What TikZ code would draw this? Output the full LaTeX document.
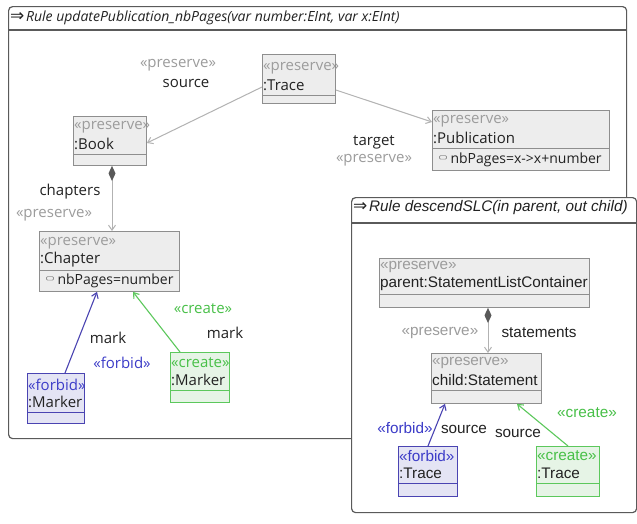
\documentclass[tikz,border=0pt]{standalone}
\usepackage{fontspec}
\setmainfont{Open Sans}
\newfontfamily\arialfont{Liberation Sans}
\newfontfamily\symfont{DejaVu Sans}
\usetikzlibrary{calc,arrows.meta}

\definecolor{frameline}{HTML}{5A5A5A}
\definecolor{boxfill}{HTML}{EDEDED}
\definecolor{boxline}{HTML}{8E8E8E}
\definecolor{presgray}{HTML}{9C9C9C}
\definecolor{forbline}{HTML}{4A44B2}
\definecolor{forbfill}{HTML}{E4E4F4}
\definecolor{forbtext}{HTML}{3C3CC8}
\definecolor{crline}{HTML}{5CC85C}
\definecolor{crfill}{HTML}{E6F4E6}
\definecolor{crtext}{HTML}{48C048}
\definecolor{edgegray}{HTML}{B2B2B2}
\definecolor{txt}{HTML}{222222}

\newcommand\fA{\fontsize{15}{17}\selectfont}
\newcommand\fAttr{\fontsize{14}{16}\selectfont}
\newcommand\fB{\arialfont\fontsize{15.3}{17}\selectfont}
\newcommand\ruleArrow{{\symfont\fontsize{17}{17}\selectfont ⇒}}
\newcommand\attrIcon{\tikz[baseline=-0.6ex]\draw[boxline,line width=0.7pt,rounded corners=1pt] (0,0) rectangle (7,-3.5);}

\tikzset{
  rulebox/.style={draw=frameline, line width=1.2pt, fill=white, rounded corners=4pt, inner sep=0pt, anchor=north west},
  objbox/.style={draw, line width=0.9pt, inner sep=0pt, anchor=north west},
  presbox/.style={draw=boxline, fill=boxfill},
  forbbox/.style={draw=forbline, fill=forbfill},
  crbox/.style={draw=crline, fill=crfill},
  presline/.style={draw=boxline, line width=0.9pt},
  forbline/.style={draw=forbline, line width=0.9pt},
  crline/.style={draw=crline, line width=0.9pt},
  objtext/.style={anchor=west, inner sep=0pt, text=txt},
  presstereo/.style={text=presgray},
  forbstereo/.style={text=forbtext},
  crstereo/.style={text=crtext},
  lbl/.style={inner sep=0pt, text=txt},
  preslbl/.style={inner sep=0pt, text=presgray},
  forblbl/.style={inner sep=0pt, text=forbtext},
  crlbl/.style={inner sep=0pt, text=crtext},
  tip/.style={-{Straight Barb[length=5pt,width=7pt]}},
  presedge/.style={draw=edgegray, line width=1pt, tip},
  forbedge/.style={draw=forbline, line width=1.1pt, tip},
  credge/.style={draw=crline, line width=1.1pt, tip},
  compedge/.style={draw=edgegray, line width=1pt,
    {Diamond[length=15pt,width=7pt,fill=gray!70!black,color=gray!70!black]}-{Straight Barb[length=5pt,width=7pt]}},
}

% object box: name, kind, x, top, width, bottom, separator, stereotype, label
\newcommand\umlobj[9]{%
  \node[objbox, #2box, minimum width=#5, minimum height={#6-#4}] (#1) at (#3,#4) {};
  \draw[#2line] (#3,#7) -- ({#3+#5},#7);
  \node[objtext, #2stereo] (#1-st) at ({#3+1},{#7-27}) {#8};
  \node[objtext] (#1-nm) at ({#3+1},{#7-10}) {#9};
}

\begin{document}
\begin{tikzpicture}[x=1pt,y=-1pt]
\useasboundingbox (0,0) rectangle (637,523);

% ---- rule updatePublication_nbPages ----
\node[rulebox, minimum width=618, minimum height=432] (rule1) at (8,6) {};
\draw[frameline, line width=1.2pt] ($(rule1.north west)+(0,24)$) -- ($(rule1.north east)+(0,24)$);
\node[anchor=west, inner sep=0pt, text=txt] (rule1-title) at (10,18)
  {\ruleArrow\,\fontsize{14}{16}\selectfont\itshape Rule updatePublication\_nbPages(var number:EInt, var x:EInt)};

\begin{scope}[font=\fA]
\umlobj{trace}{pres}{262}{54}{73}{103}{95}{«preserve»}{:Trace}
\umlobj{book}{pres}{73}{116}{73}{165}{154}{«preserve»}{:Book}
\umlobj{pub}{pres}{432}{110}{177}{170}{148}{«preserve»}{:Publication}
\node[objtext, font=\fAttr] (pub-attr) at (439,160) {\attrIcon\ nbPages=x->x+number};
\umlobj{chapter}{pres}{39}{231}{140}{291}{270}{«preserve»}{:Chapter}
\node[objtext, font=\fAttr] (chapter-attr) at (46,281) {\attrIcon\ nbPages=number};
\umlobj{fmarker}{forb}{27}{373}{57}{423}{412}{«forbid»}{:Marker}
\umlobj{cmarker}{cr}{170}{352}{59}{402}{390}{«create»}{:Marker}

\draw[presedge] ($(trace.north west)+(0,33)$) -- ($(book.north east)+(0,27)$);
\draw[presedge] ($(trace.north east)+(0,36)$) -- ($(pub.north west)+(0,12)$);
\draw[compedge] ($(book.south west)+(39,0)$) -- ($(chapter.north west)+(73,0)$);
\draw[forbedge] ($(fmarker.north west)+(38,0)$) -- ($(chapter.south west)+(58,0)$);
\draw[credge] ($(cmarker.north west)+(10,0)$) -- ($(chapter.south west)+(94,0)$);

\node[preslbl] (l-src-st) at (178,65) {«preserve»};
\node[lbl] (l-src) at (186,83) {source};
\node[lbl] (l-tgt) at (374,142) {target};
\node[preslbl] (l-tgt-st) at (374,160) {«preserve»};
\node[lbl] (l-chap) at (70,192) {chapters};
\node[preslbl] (l-chap-st) at (54,215) {«preserve»};
\node[lbl] (l-fmark) at (108,338) {mark};
\node[forblbl] (l-fmark-st) at (122,363) {«forbid»};
\node[crlbl] (l-cmark-st) at (203,309) {«create»};
\node[lbl] (l-cmark) at (225,333) {mark};
\end{scope}

% ---- rule descendSLC ----
\node[rulebox, minimum width=285, minimum height=315] (rule2) at (351,197) {};
\draw[frameline, line width=1.2pt] ($(rule2.north west)+(0,26)$) -- ($(rule2.north east)+(0,26)$);
\node[anchor=west, inner sep=0pt, text=txt] (rule2-title) at (353,208)
  {\ruleArrow\,\fB\itshape Rule descendSLC(in parent, out child)};

\begin{scope}[font=\fB]
\umlobj{parent}{pres}{379}{258}{210}{307}{294}{«preserve»}{parent:StatementListContainer}
\umlobj{child}{pres}{431}{353}{110}{403}{390}{«preserve»}{child:Statement}
\umlobj{ftrace}{forb}{398}{446}{59}{496}{483}{«forbid»}{:Trace}
\umlobj{ctrace}{cr}{536}{446}{63}{496}{483}{«create»}{:Trace}

\draw[compedge] ($(parent.south west)+(109,0)$) -- ($(child.north west)+(57,0)$);
\draw[forbedge] ($(ftrace.north west)+(30,0)$) -- ($(child.south west)+(14,0)$);
\draw[credge] ($(ctrace.north west)+(32,0)$) -- ($(child.south west)+(86,0)$);

\node[preslbl] (l-stm-st) at (440,333) {«preserve»};
\node[lbl] (l-stm) at (539,333) {statements};
\node[forblbl] (l-fsrc-st) at (405,428) {«forbid»};
\node[lbl] (l-fsrc) at (464,429) {source};
\node[crlbl] (l-csrc-st) at (587,413) {«create»};
\node[lbl] (l-csrc) at (518,433) {source};
\end{scope}
\end{tikzpicture}
\end{document}
